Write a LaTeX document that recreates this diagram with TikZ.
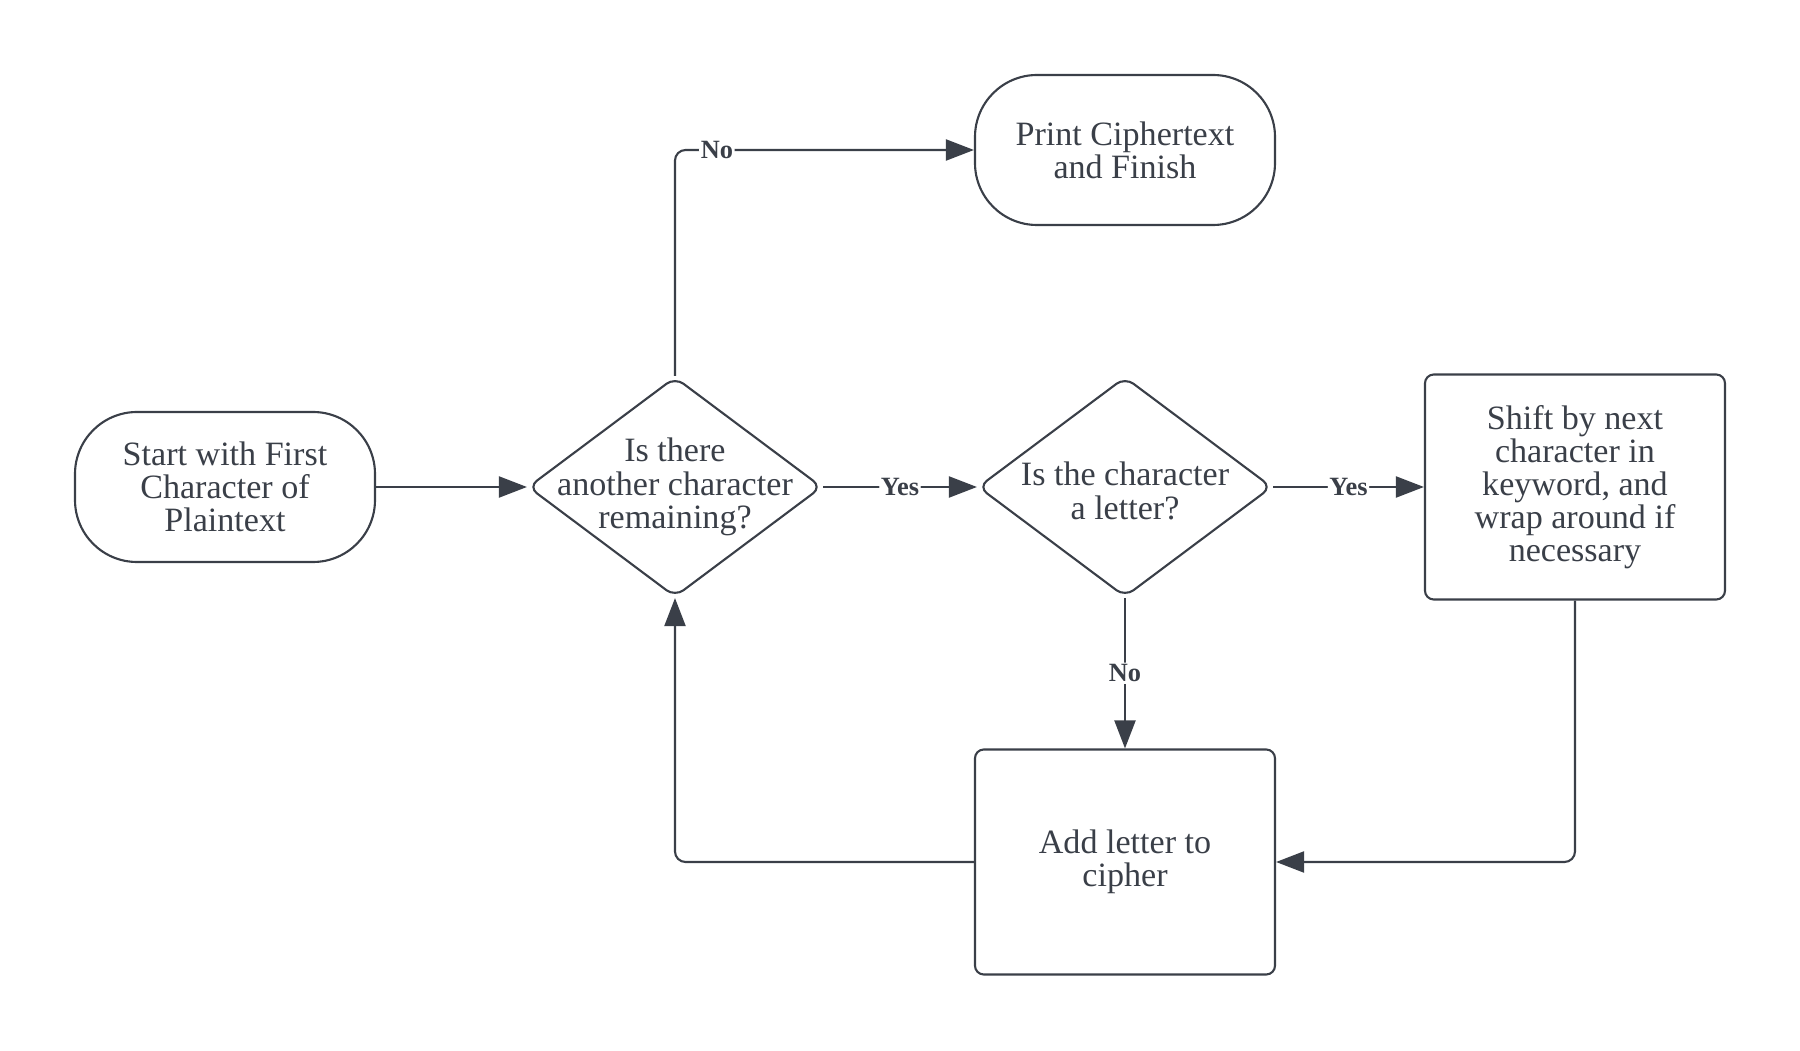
\documentclass[tikz,border=0pt]{standalone}
\usepackage{fontspec}
\setmainfont{Liberation Serif}
\usetikzlibrary{arrows.meta, positioning, shapes.geometric}
\definecolor{ink}{HTML}{3A3F48}
% text of a fixed-size diamond, so it does not grow the shape
\newcommand{\dtext}[2][-3pt]{\smash{\makebox[0pt]{\raisebox{#1}{\begin{tabular}{@{}c@{}}#2\end{tabular}}}}}

\begin{document}
\begin{tikzpicture}[line width=0.6pt, draw=ink, text=ink,
		every node/.style={font=\fontsize{9.7}{9.4}\selectfont, align=center},
		terminal/.style={draw=ink, rectangle, rounded corners=0.62cm, minimum width=3cm, minimum height=1.5cm},
		decision/.style={draw=ink, diamond, rounded corners=3pt, minimum width=2.94cm, minimum height=2.2cm, inner sep=0pt, align=none},
		process/.style={draw=ink, rectangle, rounded corners=2.5pt, minimum width=3cm, minimum height=2.25cm},
		flow/.style={draw=ink, -{Triangle[length=8pt,width=6pt]}, rounded corners=3pt},
		answer/.style={fill=white, font=\fontsize{7.5}{8}\selectfont\bfseries, inner sep=0.5pt}]
	\useasboundingbox (0,0) rectangle (18,10.5);

	\node[terminal] (start) at (2.25,5.63) {Start with First\\Character of\\Plaintext};
	\node[decision] (isthere) at (6.75,5.63) {\dtext[-2.9pt]{Is there\\another character\\remaining?}};
	\node[decision] (isletter) at (11.25,5.63) {\dtext[-4.9pt]{Is the character\\a letter?}};
	\node[process] (shift) at (15.75,5.63) {Shift by next\\character in\\keyword, and\\wrap around if\\necessary};
	\node[terminal] (print) at (11.25,9.0) {Print Ciphertext\\and Finish};
	\node[process] (add) at (11.25,1.88) {Add letter to\\cipher};

	\draw[flow] (start) -- (isthere);
	\draw[flow] (isthere) -- node[answer] {Yes} (isletter);
	\draw[flow] (isletter) -- node[answer] {Yes} (shift);
	\draw[flow] (isthere.north) |- node[answer, pos=0.57] {No} (print.west);
	\draw[flow] (isletter) -- node[answer] {No} (add);
	\draw[flow] (shift.south) |- (add.east);
	\draw[flow] (add.west) -| (isthere.south);
\end{tikzpicture}
\end{document}
